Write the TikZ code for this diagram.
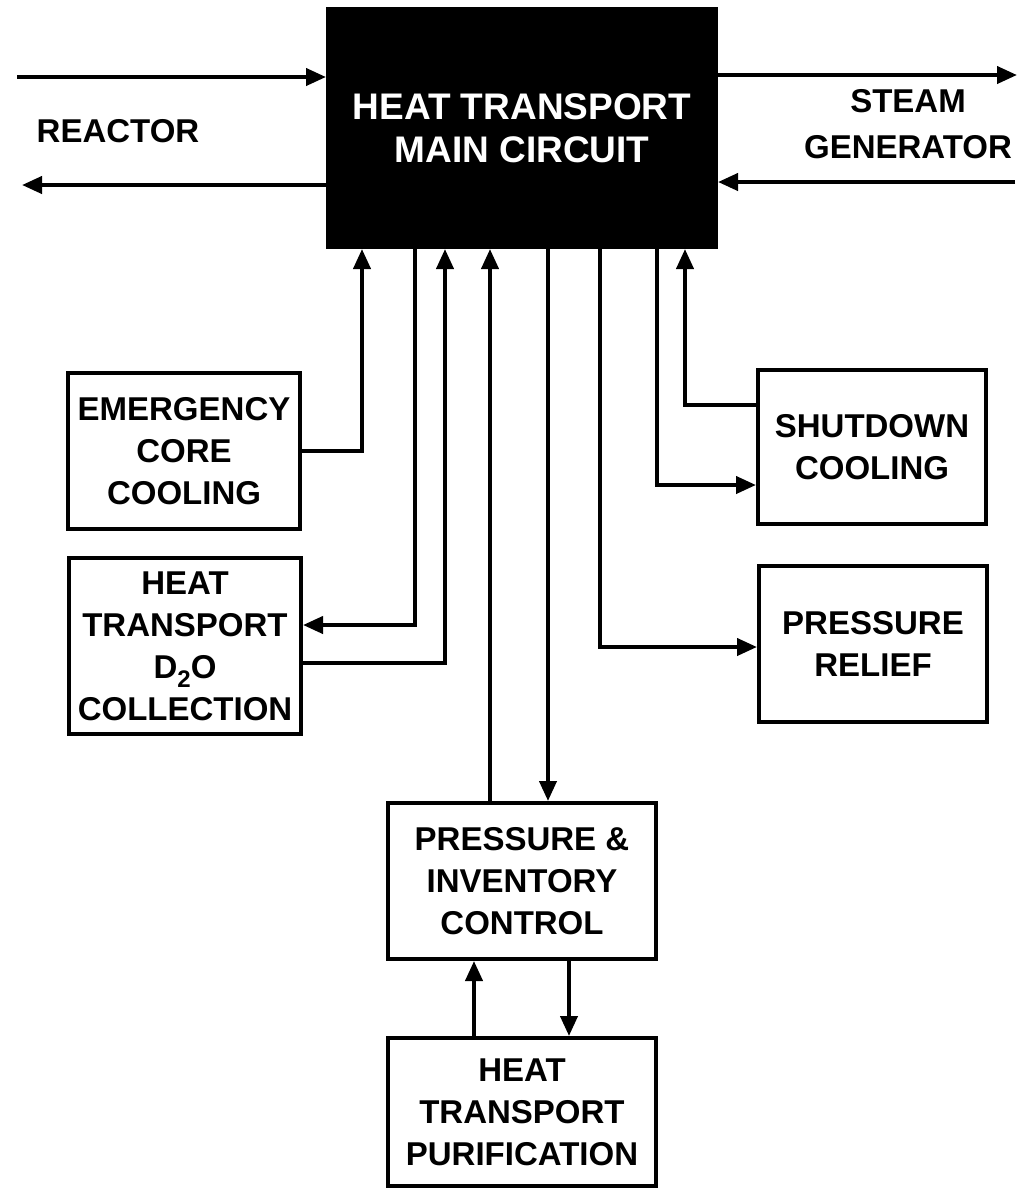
\documentclass[tikz,border=0pt]{standalone}
\usepackage{fontspec}
\setmainfont{Liberation Sans}
\usetikzlibrary{arrows.meta}

\begin{document}
\begin{tikzpicture}[x=0.5pt,y=-0.5pt,
    box/.style={draw,line width=2pt,align=center,inner sep=0pt,
        font=\bfseries\fontsize{16.5}{21}\selectfont},
    flow/.style={line width=2pt,-{Triangle[length=10pt,width=8.5pt]}},
    tag/.style={align=center,font=\bfseries\fontsize{16.5}{23}\selectfont}]
    \useasboundingbox (0,0) rectangle (1021,1191);
    % Main circuit
    \node[box,fill=black,text=white,minimum width=194pt,minimum height=119pt,
        font=\bfseries\fontsize{18.5}{21.5}\selectfont] (main) at (522,128)
        {HEAT TRANSPORT\\MAIN CIRCUIT};
    \node[tag] (reactor) at (118,131) {REACTOR};
    \node[tag] (steamgen) at (908,124) {STEAM\\GENERATOR};
    % Auxiliary systems
    \node[box,minimum width=116pt,minimum height=78pt] (ecc) at (184,451)
        {EMERGENCY\\CORE\\COOLING};
    \node[box,minimum width=116pt,minimum height=88pt] (coll) at (185,646)
        {HEAT\\TRANSPORT\\D\raisebox{-0.55ex}{\fontsize{12}{12}\selectfont 2}O\\COLLECTION};
    \node[box,minimum width=114pt,minimum height=77pt] (sdc) at (872,447)
        {SHUTDOWN\\COOLING};
    \node[box,minimum width=114pt,minimum height=78pt] (relief) at (873,644)
        {PRESSURE\\RELIEF};
    \node[box,minimum width=134pt,minimum height=78pt] (pic) at (522,881)
        {PRESSURE \&\\INVENTORY\\CONTROL};
    \node[box,minimum width=134pt,minimum height=74pt] (purif) at (522,1112)
        {HEAT\\TRANSPORT\\PURIFICATION};
    % Connector corners
    \coordinate (rin) at (17,77);
    \coordinate (rout) at (22,185);
    \coordinate (sgout) at (1017,75);
    \coordinate (sgin) at (1015,182);
    \coordinate (k1) at (362,451);
    \coordinate (k2) at (415,625);
    \coordinate (k3) at (445,663);
    \coordinate (k4) at (490,0);
    \coordinate (k5) at (548,0);
    \coordinate (k6) at (600,647);
    \coordinate (k7) at (657,485);
    \coordinate (k8) at (685,405);
    \coordinate (k9) at (474,0);
    \coordinate (k10) at (569,0);
    % Reactor and steam generator
    \draw[flow] (rin) -- (rin -| main.west);
    \draw[flow] (rout -| main.west) -- (rout);
    \draw[flow] (sgout -| main.east) -- (sgout);
    \draw[flow] (sgin) -- (sgin -| main.east);
    % Left side
    \draw[flow] (ecc.east) -- (k1) -- (k1 |- main.south);
    \draw[flow] (k2 |- main.south) -- (k2) -- (k2 -| coll.east);
    \draw[flow] (k3 -| coll.east) -- (k3) -- (k3 |- main.south);
    % Right side
    \draw[flow] (k6 |- main.south) -- (k6) -- (k6 -| relief.west);
    \draw[flow] (k7 |- main.south) -- (k7) -- (k7 -| sdc.west);
    \draw[flow] (k8 -| sdc.west) -- (k8) -- (k8 |- main.south);
    % Pressure and inventory control
    \draw[flow] (k4 |- pic.north) -- (k4 |- main.south);
    \draw[flow] (k5 |- main.south) -- (k5 |- pic.north);
    \draw[flow] (k9 |- purif.north) -- (k9 |- pic.south);
    \draw[flow] (k10 |- pic.south) -- (k10 |- purif.north);
\end{tikzpicture}
\end{document}
